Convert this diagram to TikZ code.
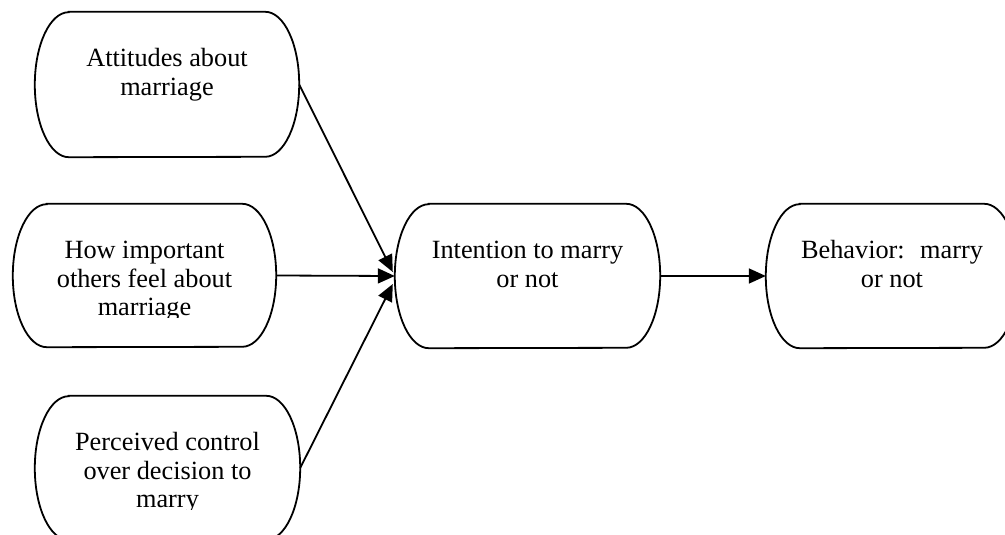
\documentclass[tikz,border=0pt]{standalone}
\usepackage{fontspec}
\setmainfont{Liberation Serif}
\usetikzlibrary{arrows.meta}
\tikzset{
  termbox/.style={draw=none, rectangle, inner sep=0pt},
  termline/.style={draw=black, line width=1.8pt},
  txt/.style={align=center, inner sep=0pt, anchor=north,
    font=\fontsize{26.3}{28.3}\selectfont},
  arr/.style={line width=1.8pt, -{Triangle[length=17pt,width=15pt]}}
}
\newcommand\drawterm[2]{%
  \draw[termline] ([xshift=34pt]#1.north west) -- ([xshift=-34pt]#1.north east)
    arc[start angle=90,end angle=-90,x radius=34pt,y radius=#2pt]
    -- ([xshift=34pt]#1.south west)
    arc[start angle=270,end angle=90,x radius=34pt,y radius=#2pt] -- cycle;}
\begin{document}
\begin{tikzpicture}[x=1pt,y=-1pt]
\useasboundingbox (0,0) rectangle (1005,535);
\clip (0,0) rectangle (1005,535);
\fill[white] (0,0) rectangle (1005,535);
% shapes
\node[termbox, minimum width=264pt, minimum height=145pt] (A) at (167,84.5) {};
\node[termbox, minimum width=263pt, minimum height=143pt] (H) at (144.5,275.5) {};
\node[termbox, minimum width=265pt, minimum height=144pt] (P) at (167.5,468) {};
\node[termbox, minimum width=265pt, minimum height=144pt] (I) at (527.5,276) {};
\node[termbox, minimum width=252pt, minimum height=144pt] (B) at (892,276) {};
\drawterm{A}{72.5}
\drawterm{H}{71.5}
\drawterm{P}{72}
\drawterm{I}{72}
\drawterm{B}{72}
% texts
\node[txt] (At) at ([yshift=-34.9pt]A.north) {\strut Attitudes about\\marriage};
\begin{scope}
  \clip (H.north west) rectangle ([yshift=-114pt]H.north east);
  \node[txt] (Ht) at ([yshift=-34.9pt]H.north) {\strut How important\\others feel about\\marriage};
\end{scope}
\begin{scope}
  \clip (P.north west) rectangle ([yshift=-114pt]P.north east);
  \node[txt] (Pt) at ([yshift=-34.9pt]P.north) {\strut Perceived control\\over decision to\\marry};
\end{scope}
\node[txt] (It) at ([yshift=-34.9pt]I.north) {\strut Intention to marry\\or not};
\node[txt] (Bt) at ([yshift=-34.9pt]B.north) {\strut Behavior:~ marry\\or not};
% connectors
\draw[arr] (A.east) -- ([shift={(-2pt,4pt)}]I.west);
\draw[arr] (H.east) -- (I.west);
\draw[arr] (P.east) -- ([shift={(-2pt,-8pt)}]I.west);
\draw[arr] (I.east) -- (B.west);
\end{tikzpicture}
\end{document}
